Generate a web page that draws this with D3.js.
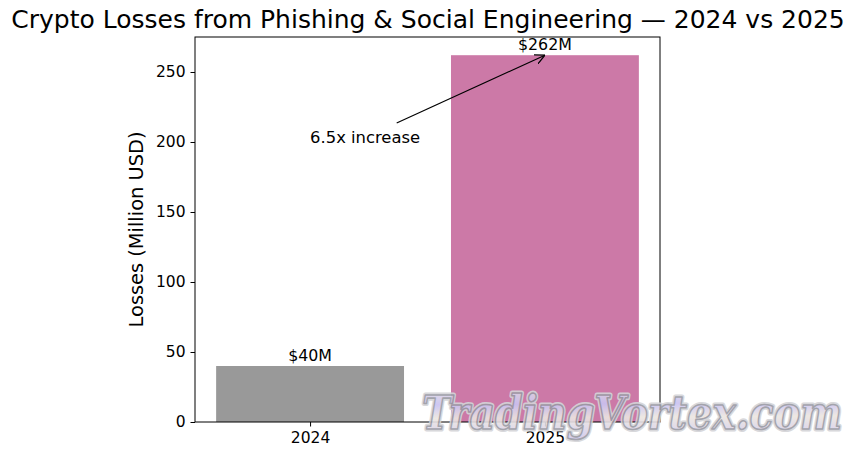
<!DOCTYPE html>
<html>
<head>
<meta charset="utf-8">
<script src="https://cdn.jsdelivr.net/npm/d3@7"></script>
<style>
  body { margin: 0; background: #fff; }
  text { font-family: "DejaVu Sans", sans-serif; fill: #000; }
</style>
</head>
<body>
<div id="chart"></div>
<script>
// data
const years = ['2024', '2025'];
const losses = [40, 262];
const barColors = ['#999999', '#cc79a7'];
const yTicks = [0, 50, 100, 150, 200, 250];
const annotationText = '6.5x increase';
const annotationFrom = [0, 200];   // [bar index, value]
const annotationTo = [1, 262];

const W = 855, H = 460;
const margin = { top: 37, right: 195, bottom: 38, left: 195 };
const w = W - margin.left - margin.right;
const h = H - margin.top - margin.bottom;

const root = d3.select('#chart').append('svg')
  .attr('width', W).attr('height', H);

const defs = root.append('defs');
defs.append('marker')
  .attr('id', 'arrow')
  .attr('viewBox', '0 0 10 10')
  .attr('refX', 10).attr('refY', 5)
  .attr('markerWidth', 10).attr('markerHeight', 10)
  .attr('markerUnits', 'userSpaceOnUse')
  .attr('orient', 'auto')
  .append('path')
  .attr('d', 'M0,0 L10,5 L0,10')
  .attr('fill', 'none').attr('stroke', '#000').attr('stroke-width', 1.3);

const grad = defs.append('linearGradient')
  .attr('id', 'wm').attr('x1', '0').attr('y1', '0').attr('x2', '0.05').attr('y2', '1')
  .attr('spreadMethod', 'reflect');
[['0%', '#e6e0dc'], ['35%', '#c9c2f2'], ['60%', '#ece6e0'], ['100%', '#cfc8ee']].forEach(s =>
  grad.append('stop').attr('offset', s[0]).attr('stop-color', s[1]));

const svg = root.append('g')
  .attr('transform', `translate(${margin.left},${margin.top})`);

// x as continuous index scale, like matplotlib's bar positions
const x = d3.scaleLinear().domain([-0.49, 1.49]).range([0, w]);
const y = d3.scaleLinear().domain([0, 275]).range([h, 0]);
const bw = x(0.8) - x(0);

svg.selectAll('.bar')
  .data(losses)
  .join('rect')
  .attr('class', 'bar')
  .attr('x', (d, i) => x(i) - bw / 2)
  .attr('y', d => y(d))
  .attr('width', bw)
  .attr('height', d => h - y(d))
  .attr('fill', (d, i) => barColors[i]);

// value labels
svg.selectAll('.val')
  .data(losses)
  .join('text')
  .attr('class', 'val')
  .attr('x', (d, i) => x(i))
  .attr('y', d => y(d) - 5)
  .attr('text-anchor', 'middle')
  .attr('font-size', 15.8)
  .text(d => `$${d}M`);

// annotation
const ax0 = x(annotationFrom[0]), ay0 = y(annotationFrom[1]);
const ax1 = x(annotationTo[0]), ay1 = y(annotationTo[1]);
svg.append('text')
  .attr('x', ax0)
  .attr('y', ay0 + 1)
  .attr('font-size', 16.4)
  .text(annotationText);
// arrow starts at the edge of the text box, pointed at the bar top
const cx = ax0 + 56, cy = ay0 - 5;
const t = 14 / (cy - ay1);
svg.append('line')
  .attr('x1', cx + (ax1 - cx) * t).attr('y1', cy - 14)
  .attr('x2', ax1).attr('y2', ay1)
  .attr('stroke', '#000').attr('stroke-width', 1.2)
  .attr('marker-end', 'url(#arrow)');

// axes
const xAxis = svg.append('g')
  .attr('transform', `translate(0,${h})`)
  .call(d3.axisBottom(x).tickValues([0, 1]).tickFormat(i => years[i]).tickSize(4.5).tickPadding(5));
const yAxis = svg.append('g')
  .call(d3.axisLeft(y).tickValues(yTicks).tickSize(4.5).tickPadding(5));
[xAxis, yAxis].forEach(g => {
  g.select('.domain').remove();
  g.selectAll('text').attr('font-size', 15.5).attr('fill', '#000').style('font-family', '"DejaVu Sans", sans-serif');
  g.selectAll('line').attr('stroke', '#000').attr('stroke-width', 1);
});

svg.append('rect')
  .attr('width', w).attr('height', h)
  .attr('fill', 'none').attr('stroke', '#000').attr('stroke-width', 1);

svg.append('text')
  .attr('transform', `translate(-52,${h / 2}) rotate(-90)`)
  .attr('text-anchor', 'middle')
  .attr('font-size', 19.4)
  .text('Losses (Million USD)');

root.append('text')
  .attr('x', W / 2 + 0.5).attr('y', 28)
  .attr('text-anchor', 'middle')
  .attr('font-size', 25)
  .text('Crypto Losses from Phishing & Social Engineering — 2024 vs 2025');

// watermark
const wm = root.append('g').attr('opacity', 0.9);
[['#d4d4d8', 5], ['#9a9aa4', 1.6]].forEach(([stroke, sw], k) => {
  wm.append('text')
    .attr('x', 422).attr('y', 429)
    .attr('textLength', 420).attr('lengthAdjust', 'spacingAndGlyphs')
    .attr('font-size', 46)
    .attr('font-style', 'italic')
    .attr('font-weight', 'bold')
    .style('font-family', '"DejaVu Serif", serif')
    .style('fill', k ? 'url(#wm)' : '#d4d4d8')
    .attr('stroke', stroke).attr('stroke-width', sw)
    .attr('stroke-linejoin', 'round')
    .text('TradingVortex.com');
});
</script>
</body>
</html>
